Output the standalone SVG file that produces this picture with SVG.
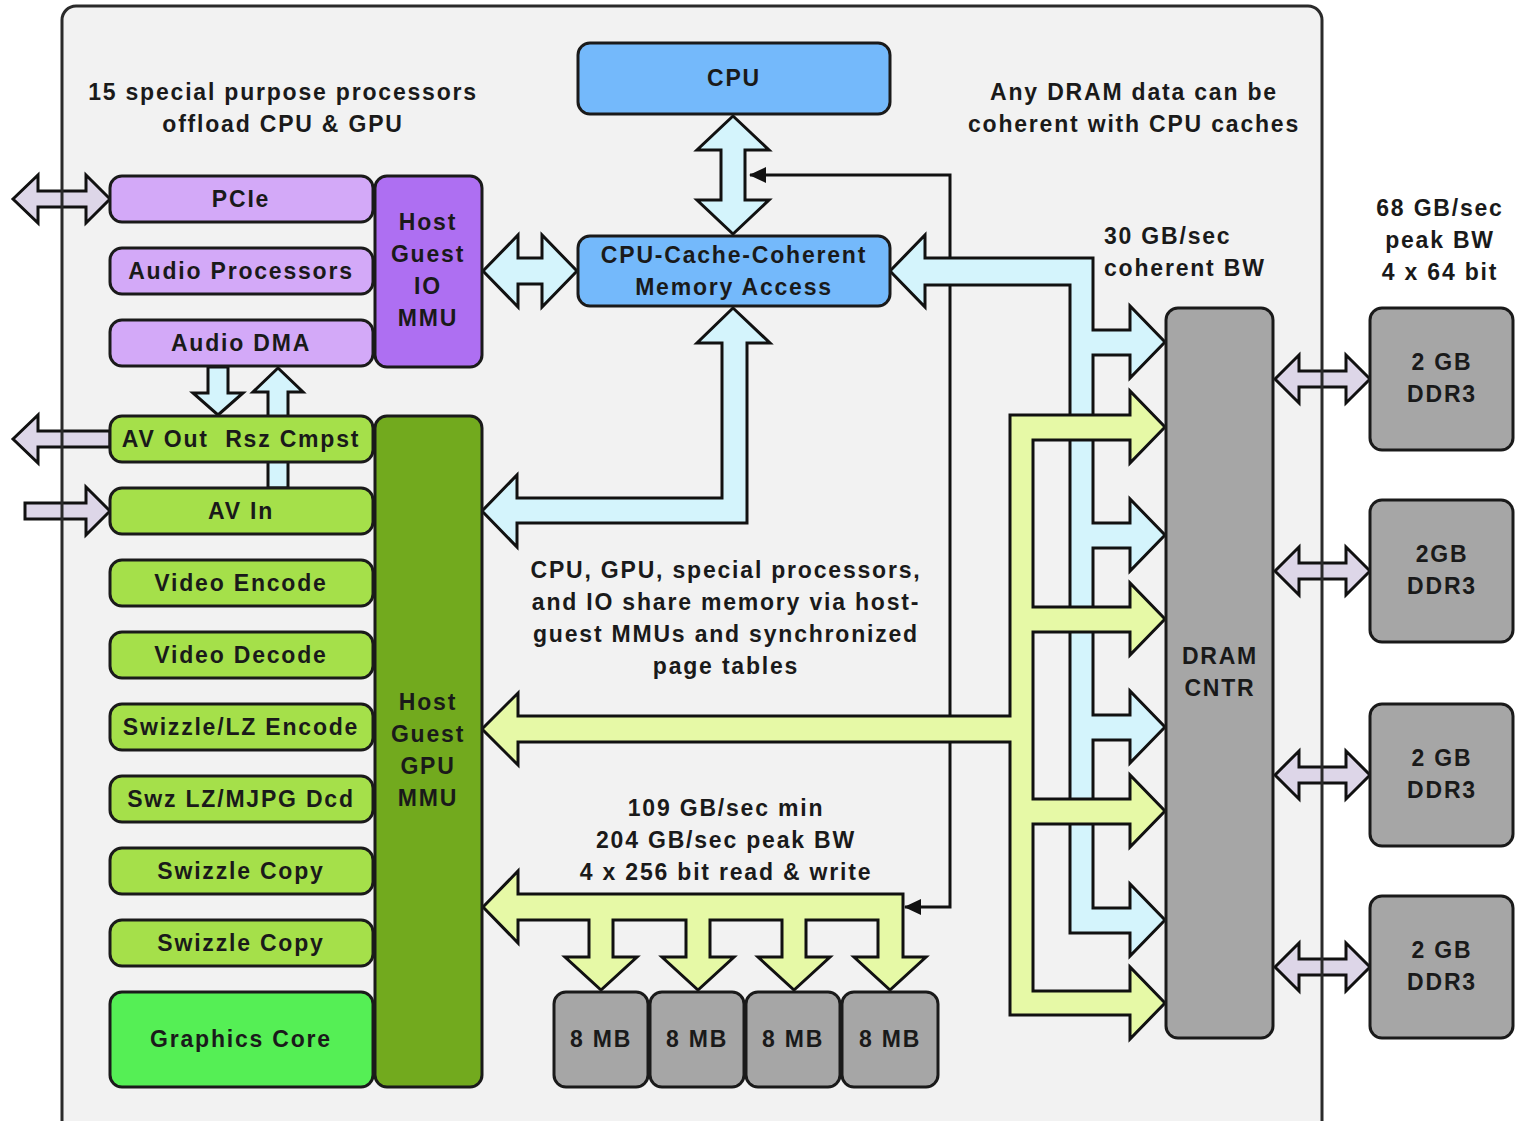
<svg xmlns="http://www.w3.org/2000/svg" width="1517" height="1121" viewBox="0 0 1517 1121">
<defs>
<style>
text{font-family:"Liberation Sans",Arial,sans-serif;font-weight:bold;font-size:23px;fill:#1a1a1a;letter-spacing:1.8px;text-anchor:middle}
.n{stroke:#1a1a1a;stroke-width:3}
.a{stroke:#111;stroke-width:3;stroke-linejoin:miter}
.lav{fill:#ddd6e8}
.cy{fill:#d4f4fc}
.gr{fill:#e6f9a6}
.pl{fill:#d3a9f8}
.pd{fill:#ae6ff2}
.g{fill:#a5e04a}
.gd{fill:#72aa1e}
.gc{fill:#55ef55}
.b{fill:#74b9fb}
.gy{fill:#a6a6a6}
.thin{fill:none;stroke:#111;stroke-width:3}
.tl{text-anchor:start}
</style>
<marker id="ah" markerWidth="18" markerHeight="18" refX="16" refY="9" orient="auto-start-reverse" markerUnits="userSpaceOnUse">
<path d="M0,1 L17,9 L0,17 Z" fill="#111"/>
</marker>
</defs>

<rect id="frame-bg" x="62" y="6" width="1260" height="1135" rx="14" fill="#f2f2f2"/>

<g id="connectors">
<path class="thin" d="M905,907 H950 V175 H750" marker-start="url(#ah)" marker-end="url(#ah)"/>
<path class="a lav" d="M13,199 L38,175 L38,191 L86,191 L86,175 L110,199 L86,223 L86,207 L38,207 L38,223 Z"/>
<path class="a lav" d="M13,439 L38,415 L38,431 L110,431 L110,447 L38,447 L38,463 Z"/>
<path class="a lav" d="M25,503 L86,503 L86,487 L110,511 L86,535 L86,519 L25,519 Z"/>
<path class="a cy" d="M218,415 L243,393 L228,393 L228,367 L208,367 L208,393 L193,393 Z"/>
<path class="a cy" d="M278,368 L303,392 L288,392 L288,488 L268,488 L268,392 L253,392 Z"/>
<path class="a cy" d="M483,271 L518,235 L518,258 L542,258 L542,235 L577,271 L542,307 L542,284 L518,284 L518,307 Z"/>
<path class="a cy" d="M733,116 L769,150 L745,150 L745,200 L769,200 L733,234 L697,200 L721,200 L721,150 L697,150 Z"/>
<path class="a cy" d="M733,308 L770,343 L747,343 L747,523 L517,523 L517,547 L482,511 L517,475 L517,498 L722,498 L722,343 L697,343 Z"/>
<path class="a cy" d="M890,271 L925,235 L925,258 L1093,258 L1093,330 L1130,330 L1130,306 L1165,342 L1130,378 L1130,355 L1093,355 L1093,523 L1130,523 L1130,499 L1165,535 L1130,571 L1130,548 L1093,548 L1093,715 L1130,715 L1130,691 L1165,727 L1130,763 L1130,740 L1093,740 L1093,908 L1130,908 L1130,884 L1165,920 L1130,956 L1130,933 L1070,933 L1070,285 L925,285 L925,307 Z"/>
<path class="a gr" d="M482,729 L518,693 L518,716 L1010,716 L1010,415 L1130,415 L1130,391 L1165,427 L1130,463 L1130,440 L1033,440 L1033,607 L1130,607 L1130,583 L1165,619 L1130,655 L1130,632 L1033,632 L1033,799 L1130,799 L1130,775 L1165,811 L1130,847 L1130,824 L1033,824 L1033,991 L1130,991 L1130,967 L1165,1003 L1130,1039 L1130,1015 L1010,1015 L1010,742 L518,742 L518,765 Z"/>
<path class="a gr" d="M483,907 L518,871 L518,894 L903,894 L903,957 L926,957 L890,990 L854,957 L878,957 L878,920 L806,920 L806,957 L830,957 L794,990 L758,957 L782,957 L782,920 L710,920 L710,957 L734,957 L698,990 L662,957 L686,957 L686,920 L613,920 L613,957 L637,957 L601,990 L565,957 L589,957 L589,920 L518,920 L518,943 Z"/>
<path class="a lav" d="M1275,379 L1299,355 L1299,371 L1346,371 L1346,355 L1370,379 L1346,403 L1346,387 L1299,387 L1299,403 Z"/>
<path class="a lav" d="M1275,571 L1299,547 L1299,563 L1346,563 L1346,547 L1370,571 L1346,595 L1346,579 L1299,579 L1299,595 Z"/>
<path class="a lav" d="M1275,775 L1299,751 L1299,767 L1346,767 L1346,751 L1370,775 L1346,799 L1346,783 L1299,783 L1299,799 Z"/>
<path class="a lav" d="M1275,967 L1299,943 L1299,959 L1346,959 L1346,943 L1370,967 L1346,991 L1346,975 L1299,975 L1299,991 Z"/>
</g>

<rect id="frame-line" x="62" y="6" width="1260" height="1135" rx="14" fill="none" stroke="#2a2a2a" stroke-width="3"/>

<text x="283" y="100">15 special purpose processors</text>
<text x="283" y="132">offload CPU &amp; GPU</text>
<text x="1134" y="100">Any DRAM data can be</text>
<text x="1134" y="132">coherent with CPU caches</text>
<text class="tl" x="1104" y="244">30 GB/sec</text>
<text class="tl" x="1104" y="276">coherent BW</text>
<text x="1440" y="216">68 GB/sec</text>
<text x="1440" y="248">peak BW</text>
<text x="1440" y="280">4 x 64 bit</text>
<text x="726" y="578">CPU, GPU, special processors,</text>
<text x="726" y="610">and IO share memory via host-</text>
<text x="726" y="642">guest MMUs and synchronized</text>
<text x="726" y="674">page tables</text>
<text x="726" y="816">109 GB/sec min</text>
<text x="726" y="848">204 GB/sec peak BW</text>
<text x="726" y="880">4 x 256 bit read &amp; write</text>

<g id="cpu"><rect class="n b" x="578" y="43" width="312" height="71" rx="12"/><text x="734" y="86">CPU</text></g>
<g id="ccc"><rect class="n b" x="578" y="236" width="312" height="70" rx="12"/><text x="734" y="263">CPU-Cache-Coherent</text><text x="734" y="295">Memory Access</text></g>

<g id="pcie"><rect class="n pl" x="110" y="176" width="263" height="46" rx="12"/><text x="241" y="207">PCIe</text></g>
<g id="audio-proc"><rect class="n pl" x="110" y="248" width="263" height="46" rx="12"/><text x="241" y="279">Audio Processors</text></g>
<g id="audio-dma"><rect class="n pl" x="110" y="320" width="263" height="46" rx="12"/><text x="241" y="351">Audio DMA</text></g>
<g id="io-mmu"><rect class="n pd" x="375" y="176" width="107" height="191" rx="12"/><text x="428" y="230">Host</text><text x="428" y="262">Guest</text><text x="428" y="294">IO</text><text x="428" y="326">MMU</text></g>

<g id="av-out"><rect class="n g" x="110" y="416" width="263" height="46" rx="12"/><text x="241" y="447" xml:space="preserve">AV Out  Rsz Cmpst</text></g>
<g id="av-in"><rect class="n g" x="110" y="488" width="263" height="46" rx="12"/><text x="241" y="519">AV In</text></g>
<g id="video-enc"><rect class="n g" x="110" y="560" width="263" height="46" rx="12"/><text x="241" y="591">Video Encode</text></g>
<g id="video-dec"><rect class="n g" x="110" y="632" width="263" height="46" rx="12"/><text x="241" y="663">Video Decode</text></g>
<g id="swz-lz-enc"><rect class="n g" x="110" y="704" width="263" height="46" rx="12"/><text x="241" y="735">Swizzle/LZ Encode</text></g>
<g id="swz-lz-dcd"><rect class="n g" x="110" y="776" width="263" height="46" rx="12"/><text x="241" y="807">Swz LZ/MJPG Dcd</text></g>
<g id="swz-copy-1"><rect class="n g" x="110" y="848" width="263" height="46" rx="12"/><text x="241" y="879">Swizzle Copy</text></g>
<g id="swz-copy-2"><rect class="n g" x="110" y="920" width="263" height="46" rx="12"/><text x="241" y="951">Swizzle Copy</text></g>
<g id="graphics-core"><rect class="n gc" x="110" y="992" width="263" height="95" rx="12"/><text x="241" y="1047">Graphics Core</text></g>
<g id="gpu-mmu"><rect class="n gd" x="375" y="416" width="107" height="671" rx="12"/><text x="428" y="710">Host</text><text x="428" y="742">Guest</text><text x="428" y="774">GPU</text><text x="428" y="806">MMU</text></g>

<g id="mb1"><rect class="n gy" x="554" y="992" width="94" height="95" rx="12"/><text x="601" y="1047">8 MB</text></g>
<g id="mb2"><rect class="n gy" x="650" y="992" width="94" height="95" rx="12"/><text x="697" y="1047">8 MB</text></g>
<g id="mb3"><rect class="n gy" x="746" y="992" width="94" height="95" rx="12"/><text x="793" y="1047">8 MB</text></g>
<g id="mb4"><rect class="n gy" x="842" y="992" width="96" height="95" rx="12"/><text x="890" y="1047">8 MB</text></g>

<g id="dram-cntr"><rect class="n gy" x="1166" y="308" width="107" height="730" rx="12"/><text x="1220" y="664">DRAM</text><text x="1220" y="696">CNTR</text></g>

<g id="ddr1"><rect class="n gy" x="1370" y="308" width="143" height="142" rx="12"/><text x="1442" y="370">2 GB</text><text x="1442" y="402">DDR3</text></g>
<g id="ddr2"><rect class="n gy" x="1370" y="500" width="143" height="142" rx="12"/><text x="1442" y="562">2GB</text><text x="1442" y="594">DDR3</text></g>
<g id="ddr3"><rect class="n gy" x="1370" y="704" width="143" height="142" rx="12"/><text x="1442" y="766">2 GB</text><text x="1442" y="798">DDR3</text></g>
<g id="ddr4"><rect class="n gy" x="1370" y="896" width="143" height="142" rx="12"/><text x="1442" y="958">2 GB</text><text x="1442" y="990">DDR3</text></g>
</svg>
